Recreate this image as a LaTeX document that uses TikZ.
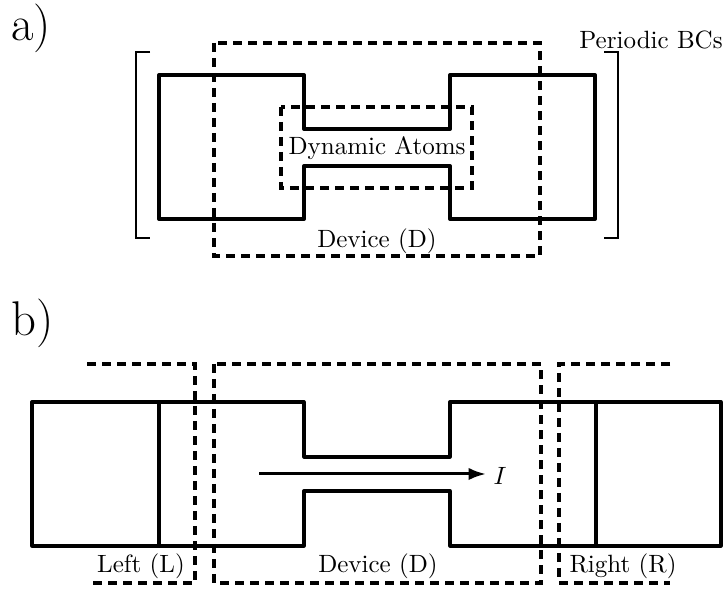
\documentclass[tikz,border=0pt]{standalone}
\usetikzlibrary{arrows.meta}
\begin{document}
\begin{tikzpicture}[x=0.4pt,y=-0.4pt,
  solida/.style={line width=1.6pt,line join=round},
  solidb/.style={line width=1.3pt,line join=round},
  dashbox/.style={line width=1.25pt,dash pattern=on 3.5pt off 2.5pt},
  brk/.style={line width=1.1pt},
  lbl/.style={inner sep=0pt,font=\normalsize},
  part/.style={inner sep=0pt,font=\fontsize{19.5}{22}\selectfont}]
\useasboundingbox (0,0) rectangle (727,590);
% ---------- a) ----------
\node[part] (pa) at (31,28) {a)};
\draw[solida] (159,75) -- (304,75) -- (304,129) -- (450,129) -- (450,75) -- (595,75)
  -- (595,219) -- (450,219) -- (450,166) -- (304,166) -- (304,219) -- (159,219) -- cycle;
\draw[dashbox] (214,43) rectangle (540,256);
\draw[dashbox] (281,107) rectangle (472,188);
\draw[brk] (150,52) -- (136,52) -- (136,238) -- (150,238);
\draw[brk] (604,52) -- (618,52) -- (618,238) -- (604,238);
\node[lbl,fill=white,inner xsep=1pt] (dyn) at (377,148) {Dynamic Atoms};
\node[lbl] (deva) at (377,241) {Device (D)};
\node[lbl] (pbc) at (651,40) {Periodic BCs};
% ---------- b) ----------
\node[part] (pb) at (33,323) {b)};
\draw[solidb] (32,402) -- (304,402) -- (304,457) -- (450,457) -- (450,402) -- (721,402)
  -- (721,546) -- (450,546) -- (450,491) -- (304,491) -- (304,546) -- (32,546) -- cycle;
\draw[solidb] (159,402) -- (159,546);
\draw[solidb] (596,402) -- (596,546);
\draw[dashbox] (87,364) -- (195,364) -- (195,583) -- (87,583);
\draw[dashbox] (214,364) rectangle (541,583);
\draw[dashbox] (670,364) -- (559,364) -- (559,583) -- (670,583);
\coordinate (as) at (259,474);
\coordinate (ae) at (486,474);
\node[lbl] (cur) at (500,476) {$I$};
\draw[line width=1.2pt,-{Latex[length=7pt,width=5pt]}] (as) -- (ae);
\node[lbl] (left) at (141,566) {Left (L)};
\node[lbl] (devb) at (378,566) {Device (D)};
\node[lbl] (right) at (623,566) {Right (R)};
\end{tikzpicture}
\end{document}
